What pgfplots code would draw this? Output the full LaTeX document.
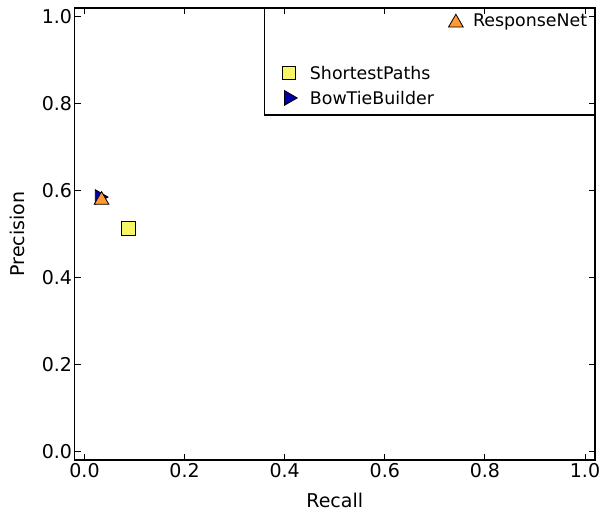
\documentclass[border=0pt]{standalone}
\usepackage{pgfplots}
\pgfplotsset{compat=1.18}
\usepackage{fontspec}
\setmainfont{DejaVu Sans}
\definecolor{cOrange}{rgb}{1.0,0.6,0.2}
\definecolor{cYellow}{rgb}{0.97,0.97,0.4}
\definecolor{cBlue}{rgb}{0.0,0.0,0.67}
\begin{document}
\begin{tikzpicture}
\begin{axis}[
  scale only axis,
  axis on top,
  width=520.5pt, height=452pt,
  xmin=-0.02, xmax=1.02, ymin=-0.02, ymax=1.02,
  xtick={0,0.2,0.4,0.6,0.8,1.0},
  ytick={0,0.2,0.4,0.6,0.8,1.0},
  xticklabel style={/pgf/number format/fixed,/pgf/number format/fixed zerofill,/pgf/number format/precision=1},
  yticklabel style={/pgf/number format/fixed,/pgf/number format/fixed zerofill,/pgf/number format/precision=1, xshift=1pt},
  /pgf/number format/assume math mode=true,
  tick align=inside,
  tick pos=both,
  major tick length=6pt,
  tick style={black, line width=0.8pt},
  axis line style={line width=1.2pt},
  ticklabel style={font=\fontsize{19}{22}\selectfont},
  clip=false,
]
\coordinate (SW) at (rel axis cs:0,0);
\coordinate (NE) at (rel axis cs:1,1);
% axis labels
\node[font=\fontsize{19}{22}\selectfont, rotate=90] at (axis cs:-0.135,0.5) {Precision};
\node[font=\fontsize{19}{22}\selectfont] at (axis cs:0.5,-0.112) {Recall};
% legend box
\draw[line width=1.2pt, fill=white] (axis cs:0.3597,0.774) rectangle (rel axis cs:1,1);
% data
\addplot[only marks, mark=square*, mark size=7pt, mark options={fill=cYellow, draw=black, line width=0.8pt}] coordinates {(0.088,0.514)};
\addplot[only marks, mark=triangle*, mark size=8.5pt, mark options={fill=cBlue, draw=black, line width=0.8pt, rotate=-90}] coordinates {(0.03,0.585)};
\addplot[only marks, mark=triangle*, mark size=8.5pt, mark options={fill=cOrange, draw=black, line width=0.8pt}] coordinates {(0.034,0.578)};
% legend marks
\addplot[only marks, mark=triangle*, mark size=8.5pt, mark options={fill=cOrange, draw=black, line width=0.8pt}] coordinates {(0.742,0.986)};
\addplot[only marks, mark=square*, mark size=6.8pt, mark options={fill=cYellow, draw=black, line width=0.8pt}] coordinates {(0.408,0.871)};
\addplot[only marks, mark=triangle*, mark size=8.5pt, mark options={fill=cBlue, draw=black, line width=0.8pt, rotate=-90}] coordinates {(0.408,0.813)};
\node[anchor=west, font=\fontsize{17.4}{20}\selectfont, inner sep=0pt] at (axis cs:0.776,0.988) {ResponseNet};
\node[anchor=west, font=\fontsize{17.4}{20}\selectfont, inner sep=0pt] at (axis cs:0.45,0.871) {ShortestPaths};
\node[anchor=west, font=\fontsize{17.4}{20}\selectfont, inner sep=0pt] at (axis cs:0.45,0.813) {BowTieBuilder};
\end{axis}
\pgfresetboundingbox
\path ([shift={(-74.5pt,-53pt)}]SW) rectangle ([shift={(7pt,8pt)}]NE);
\end{tikzpicture}
\end{document}
